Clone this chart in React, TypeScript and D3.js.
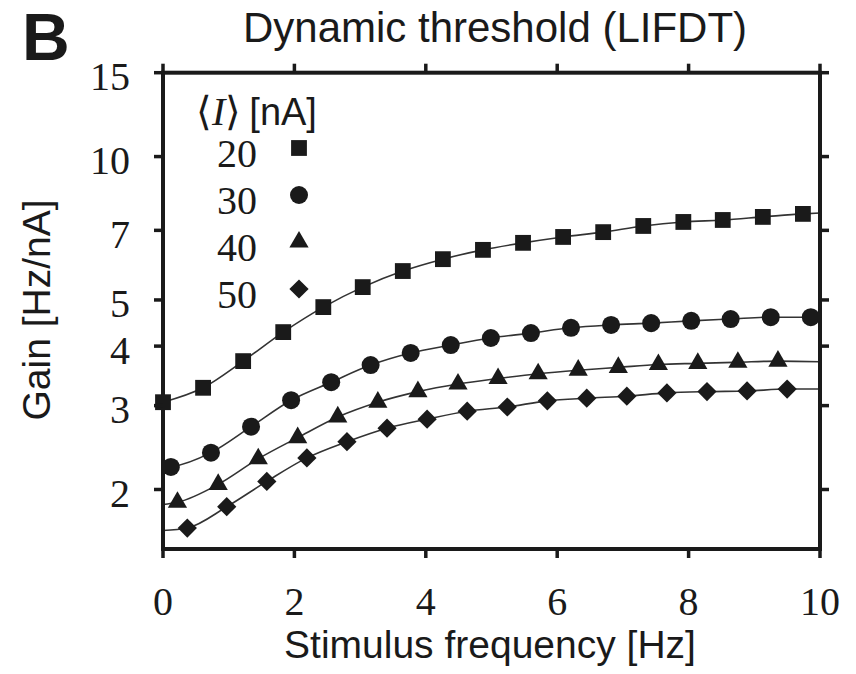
import React from 'react';
import * as d3 from 'd3';

// Legend / series labels: mean current <I> [nA]
const currents = ['20', '30', '40', '50'];

// Simulation markers (stimulus frequency [Hz], gain [Hz/nA])
const freq20 = [0, 0.61, 1.22, 1.83, 2.44, 3.04, 3.65, 4.26, 4.87, 5.48, 6.09, 6.7, 7.31, 7.92, 8.52, 9.13, 9.74];
const gain20 = [3.05, 3.27, 3.72, 4.28, 4.83, 5.32, 5.75, 6.09, 6.37, 6.59, 6.78, 6.94, 7.15, 7.29, 7.36, 7.47, 7.58];

const freq30 = [0.12, 0.73, 1.34, 1.95, 2.56, 3.16, 3.77, 4.38, 4.99, 5.6, 6.21, 6.82, 7.43, 8.04, 8.64, 9.25, 9.86];
const gain30 = [2.23, 2.39, 2.71, 3.08, 3.36, 3.65, 3.87, 4.02, 4.16, 4.26, 4.37, 4.43, 4.47, 4.52, 4.56, 4.6, 4.6];

const freq40 = [0.22, 0.84, 1.45, 2.05, 2.66, 3.27, 3.88, 4.49, 5.1, 5.71, 6.32, 6.93, 7.54, 8.14, 8.75, 9.36];
const gain40 = [1.88, 2.05, 2.32, 2.57, 2.84, 3.05, 3.21, 3.33, 3.42, 3.5, 3.56, 3.61, 3.66, 3.68, 3.7, 3.72];

const freq50 = [0.37, 0.97, 1.58, 2.19, 2.8, 3.41, 4.02, 4.63, 5.24, 5.85, 6.45, 7.06, 7.67, 8.28, 8.89, 9.5];
const gain50 = [1.66, 1.84, 2.08, 2.33, 2.52, 2.69, 2.81, 2.92, 2.98, 3.07, 3.11, 3.14, 3.19, 3.21, 3.22, 3.25];

// Theory curve end values at 0 Hz and 10 Hz
const theoryGainAt0 = [3.05, 2.22, 1.86, 1.64];
const theoryGainAt10 = [7.61, 4.62, 3.71, 3.25];

const xTicks = [0, 2, 4, 6, 8, 10];
const yTicks = [2, 3, 4, 5, 7, 10, 15];

const SERIF = "'Liberation Serif', 'Times New Roman', serif";
const SANS = "'Liberation Sans', Arial, Helvetica, sans-serif";
const INK = '#1a1a1a';

export default function App() {
  const W = 856;
  const H = 674;
  const x = d3.scaleLinear().domain([0, 10]).range([163, 820]);
  const y = d3.scaleLog().domain([1.5, 15]).range([549, 72.7]);

  const freqs = [freq20, freq30, freq40, freq50];
  const gains = [gain20, gain30, gain40, gain50];
  const symbols = [d3.symbolSquare, d3.symbolCircle, d3.symbolTriangle, d3.symbolSquare];
  const sizes = [250, 255, 160, 185];
  const rotations = [0, 0, 0, 45];

  const line = d3
    .line<[number, number]>()
    .x((d) => x(d[0]))
    .y((d) => y(d[1]))
    .curve(d3.curveMonotoneX);

  const [x0, x1] = x.range();
  const [yb, yt] = y.range();
  const tickLen = 9;

  const legendY = [148, 195, 242, 289];

  return (
    <svg
      width={W}
      height={H}
      style={{ position: 'absolute', left: 0, top: 0, background: '#fff' }}
    >
      {/* Panel letter and title */}
      <text x={22} y={60} fontFamily={SANS} fontWeight="bold" fontSize={66} fill={INK}>
        B
      </text>
      <text x={495} y={42} fontFamily={SANS} fontSize={42} textAnchor="middle" fill={INK}>
        Dynamic threshold (LIFDT)
      </text>

      {/* Curves */}
      {gains.map((g, i) => {
        const pts: [number, number][] = [
          [0, theoryGainAt0[i]],
          ...freqs[i].map((f, j) => [f, g[j]] as [number, number]),
          [10, theoryGainAt10[i]],
        ];
        return (
          <path key={'l' + i} d={line(pts) || ''} fill="none" stroke="#333" strokeWidth={1.6} />
        );
      })}

      {/* Markers */}
      {gains.map((g, i) => {
        const p = d3.symbol().type(symbols[i]).size(sizes[i])() || '';
        return (
          <g key={'m' + i}>
            {g.map((v, j) => (
              <path
                key={j}
                d={p}
                fill={INK}
                transform={`translate(${x(freqs[i][j])},${y(v)}) rotate(${rotations[i]})`}
              />
            ))}
          </g>
        );
      })}

      {/* Frame */}
      <rect
        x={x0}
        y={yt}
        width={x1 - x0}
        height={yb - yt}
        fill="none"
        stroke={INK}
        strokeWidth={4}
      />

      {/* X ticks (bottom & top, outward) */}
      {xTicks.map((t) => (
        <g key={'xt' + t}>
          <line x1={x(t)} x2={x(t)} y1={yb} y2={yb + tickLen} stroke={INK} strokeWidth={3.5} />
          <line x1={x(t)} x2={x(t)} y1={yt} y2={yt - tickLen} stroke={INK} strokeWidth={3.5} />
          <text
            x={x(t)}
            y={615}
            textAnchor="middle"
            fontFamily={SERIF}
            fontSize={40}
            fill={INK}
          >
            {t}
          </text>
        </g>
      ))}

      {/* Y ticks (left & right, outward) */}
      {yTicks.map((t) => (
        <g key={'yt' + t}>
          <line x1={x0} x2={x0 - tickLen} y1={y(t)} y2={y(t)} stroke={INK} strokeWidth={3.5} />
          <line x1={x1} x2={x1 + tickLen} y1={y(t)} y2={y(t)} stroke={INK} strokeWidth={3.5} />
          <text
            x={130}
            y={y(t) + 17.5}
            textAnchor="end"
            fontFamily={SERIF}
            fontSize={40}
            fill={INK}
          >
            {t}
          </text>
        </g>
      ))}

      {/* Axis labels */}
      <text x={490} y={658} textAnchor="middle" fontFamily={SANS} fontSize={39} fill={INK}>
        Stimulus frequency [Hz]
      </text>
      <text
        transform="translate(50,310) rotate(-90)"
        textAnchor="middle"
        fontFamily={SANS}
        fontSize={39}
        fill={INK}
      >
        Gain [Hz/nA]
      </text>

      {/* Legend */}
      <text x={196} y={125} fill={INK}>
        <tspan fontFamily={SERIF} fontSize={40}>⟨</tspan>
        <tspan fontFamily={SERIF} fontSize={40} fontStyle="italic">I</tspan>
        <tspan fontFamily={SERIF} fontSize={40}>⟩</tspan>
        <tspan fontFamily={SANS} fontSize={38} dx={8}>[nA]</tspan>
      </text>
      {currents.map((c, i) => {
        const p = d3.symbol().type(symbols[i]).size(sizes[i])() || '';
        return (
          <g key={'lg' + i}>
            <text
              x={257}
              y={legendY[i] + 19}
              textAnchor="end"
              fontFamily={SERIF}
              fontSize={40}
              fill={INK}
            >
              {c}
            </text>
            <path
              d={p}
              fill={INK}
              transform={`translate(299,${legendY[i]}) rotate(${rotations[i]})`}
            />
          </g>
        );
      })}
    </svg>
  );
}
